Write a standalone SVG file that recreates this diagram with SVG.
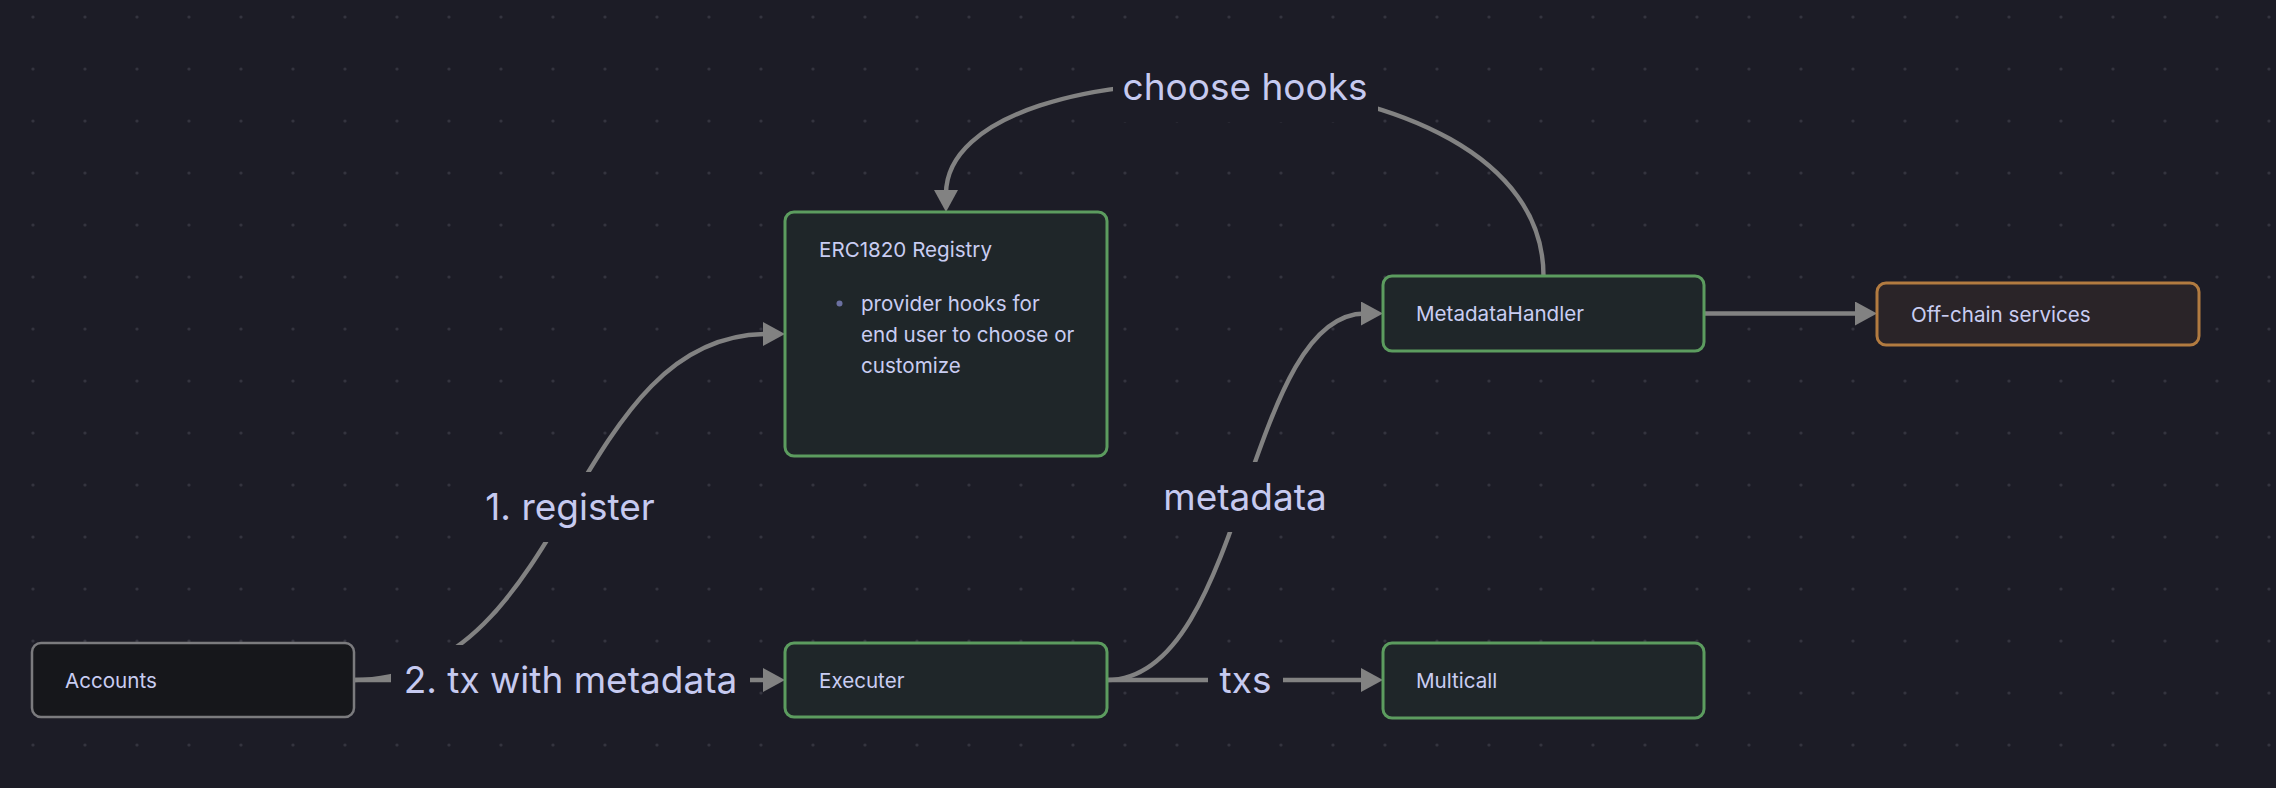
<svg xmlns="http://www.w3.org/2000/svg" width="2276" height="788" viewBox="0 0 2276 788">
  <defs>
    <pattern id="grid" x="7" y="-9" width="52" height="52" patternUnits="userSpaceOnUse">
      <circle cx="26" cy="26" r="1.6" fill="#34343f"/>
    </pattern>
    <marker id="arrow" viewBox="0 0 22 24" markerWidth="22" markerHeight="24" refX="4" refY="12" orient="auto" markerUnits="userSpaceOnUse">
      <path d="M0,0 L22,12 L0,24 Z" fill="#828282"/>
    </marker>
    <style>
      .node-green { fill: #1f2629; stroke: #5c9c5f; stroke-width: 3; }
      .node-gray { fill: #16171b; stroke: #7b7b7e; stroke-width: 2.5; }
      .node-orange { fill: #2a2428; stroke: #b27b40; stroke-width: 3; }
      .label { font-family: Inter, "Noto Sans", sans-serif; font-size: 20.6px; fill: #c9cdf2; }
      .edge { fill: none; stroke: #828282; stroke-width: 4.4; marker-end: url(#arrow); }
      .elabel-bg { fill: #1c1c26; }
      .elabel { font-family: Inter, "Noto Sans", sans-serif; font-size: 37px; fill: #c6caf0; text-anchor: middle; }
    </style>
  </defs>
  <rect width="2276" height="788" fill="#1c1c26"/>
  <rect width="2276" height="788" fill="url(#grid)"/>

  <g id="connectors">
    <path class="edge" d="M354,680 C569.5,680 569.5,334 767,334"/>
    <path class="edge" d="M354,680 L767,680"/>
    <path class="edge" d="M1107,680 L1365,680"/>
    <path class="edge" d="M1107,680 C1245,680 1245,313.5 1365,313.5"/>
    <path class="edge" d="M1704,313.5 L1859,313.5"/>
    <path class="edge" d="M1543.5,276 C1543.5,34.7 946,34.7 946,194"/>

    <g id="label-register">
      <rect class="elabel-bg" x="473" y="472" width="194" height="70"/>
      <text class="elabel" x="570" y="520">1. register</text>
    </g>
    <g id="label-tx">
      <rect class="elabel-bg" x="391" y="645" width="359" height="70"/>
      <text class="elabel" x="570.5" y="693">2. tx with metadata</text>
    </g>
    <g id="label-metadata">
      <rect class="elabel-bg" x="1151" y="462" width="188" height="70"/>
      <text class="elabel" x="1245" y="510">metadata</text>
    </g>
    <g id="label-txs">
      <rect class="elabel-bg" x="1208" y="645" width="75" height="70"/>
      <text class="elabel" x="1245.5" y="693">txs</text>
    </g>
    <g id="label-choose">
      <rect class="elabel-bg" x="1113" y="52" width="265" height="70"/>
      <text class="elabel" x="1245" y="100">choose hooks</text>
    </g>
  </g>

  <g id="accounts">
    <rect class="node-gray" x="32" y="643" width="322" height="74" rx="9"/>
    <text class="label" x="65" y="688">Accounts</text>
  </g>

  <g id="executer">
    <rect class="node-green" x="785" y="643" width="322" height="74" rx="9"/>
    <text class="label" x="819" y="688">Executer</text>
  </g>

  <g id="erc1820">
    <rect class="node-green" x="785" y="212" width="322" height="244" rx="9"/>
    <text class="label" x="819" y="257">ERC1820 Registry</text>
    <circle cx="839.5" cy="303.5" r="3" fill="#6b70a0"/>
    <text class="label" x="861" y="311">provider hooks for</text>
    <text class="label" x="861" y="342">end user to choose or</text>
    <text class="label" x="861" y="373">customize</text>
  </g>

  <g id="metadatahandler">
    <rect class="node-green" x="1383" y="276" width="321" height="75" rx="9"/>
    <text class="label" x="1416" y="321">MetadataHandler</text>
  </g>

  <g id="multicall">
    <rect class="node-green" x="1383" y="643" width="321" height="75" rx="9"/>
    <text class="label" x="1416" y="688">Multicall</text>
  </g>

  <g id="offchain">
    <rect class="node-orange" x="1877" y="283" width="322" height="62" rx="9"/>
    <text class="label" x="1911" y="322">Off-chain services</text>
  </g>
</svg>
